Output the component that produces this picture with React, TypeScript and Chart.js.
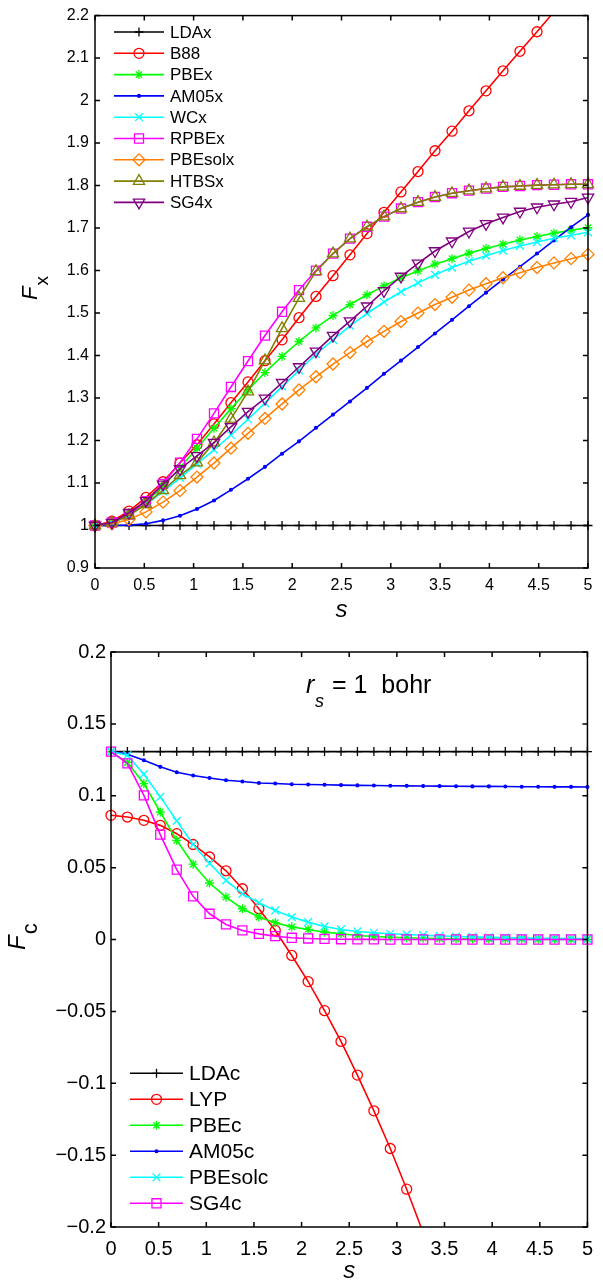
import React, { useEffect, useRef } from "react";
import { Chart, registerables } from "chart.js";
import { drawPoint } from "chart.js/helpers";

Chart.register(...registerables);

const FONT = '"Liberation Sans", Arial, Helvetica, sans-serif';

// ---------- data ----------
const S = [0, 0.172, 0.345, 0.517, 0.690, 0.862, 1.034, 1.207, 1.379, 1.552, 1.724, 1.897, 2.069, 2.241, 2.414,
  2.586, 2.759, 2.931, 3.103, 3.276, 3.448, 3.621, 3.793, 3.966, 4.138, 4.310, 4.483, 4.655, 4.828, 5.0];

const X_TICKS = [0, 0.5, 1, 1.5, 2, 2.5, 3, 3.5, 4, 4.5, 5];
const FX_TICKS = [0.9, 1, 1.1, 1.2, 1.3, 1.4, 1.5, 1.6, 1.7, 1.8, 1.9, 2, 2.1, 2.2];
const FC_TICKS = [-0.2, -0.15, -0.1, -0.05, 0, 0.05, 0.1, 0.15, 0.2];

const LDAx = [1, 1, 1, 1, 1, 1, 1, 1, 1, 1, 1, 1, 1, 1, 1, 1, 1, 1, 1, 1, 1, 1, 1, 1, 1, 1, 1, 1, 1, 1];
const B88 = [1.000, 1.010, 1.034, 1.066, 1.103, 1.147, 1.190, 1.239, 1.289, 1.338, 1.388, 1.437, 1.489, 1.539, 1.588,
  1.637, 1.687, 1.737, 1.785, 1.833, 1.882, 1.928, 1.976, 2.023, 2.070, 2.116, 2.162, 2.209, null, null];
const PBEx = [1.000, 1.006, 1.025, 1.055, 1.092, 1.136, 1.182, 1.229, 1.275, 1.319, 1.360, 1.398, 1.433, 1.465, 1.494,
  1.520, 1.543, 1.564, 1.583, 1.599, 1.615, 1.628, 1.641, 1.652, 1.662, 1.672, 1.680, 1.688, 1.695, 1.701];
const AM05x = [1.000, 1.000, 1.001, 1.004, 1.012, 1.023, 1.039, 1.059, 1.084, 1.110, 1.138, 1.169, 1.198, 1.230, 1.261,
  1.292, 1.324, 1.357, 1.388, 1.420, 1.452, 1.484, 1.516, 1.548, 1.579, 1.609, 1.640, 1.671, 1.702, 1.731];
const WCx = [1.000, 1.006, 1.024, 1.050, 1.080, 1.112, 1.145, 1.178, 1.213, 1.250, 1.288, 1.327, 1.365, 1.403, 1.437,
  1.470, 1.499, 1.526, 1.550, 1.571, 1.590, 1.607, 1.622, 1.635, 1.647, 1.658, 1.667, 1.676, 1.683, 1.690];
const RPBEx = [1.000, 1.007, 1.026, 1.057, 1.098, 1.148, 1.204, 1.264, 1.326, 1.387, 1.447, 1.503, 1.554, 1.600, 1.640,
  1.675, 1.703, 1.727, 1.746, 1.761, 1.773, 1.782, 1.788, 1.793, 1.797, 1.799, 1.801, 1.802, 1.803, 1.803];
const PBEsolx = [1.000, 1.004, 1.014, 1.032, 1.055, 1.082, 1.114, 1.147, 1.182, 1.217, 1.252, 1.286, 1.319, 1.350, 1.380,
  1.407, 1.433, 1.457, 1.480, 1.500, 1.520, 1.537, 1.554, 1.569, 1.583, 1.595, 1.607, 1.618, 1.628, 1.638];
const HTBSx = [1.000, 1.006, 1.024, 1.050, 1.083, 1.118, 1.148, 1.195, 1.251, 1.315, 1.388, 1.464, 1.535, 1.598, 1.640,
  1.675, 1.703, 1.727, 1.746, 1.761, 1.773, 1.782, 1.788, 1.793, 1.797, 1.799, 1.801, 1.802, 1.803, 1.803];
const SG4x = [1.000, 1.007, 1.030, 1.058, 1.097, 1.133, 1.164, 1.195, 1.232, 1.268, 1.299, 1.336, 1.373, 1.410, 1.447,
  1.481, 1.516, 1.552, 1.586, 1.617, 1.646, 1.669, 1.692, 1.710, 1.725, 1.739, 1.749, 1.756, 1.762, 1.772];

const LDAc = [0.1307, 0.1307, 0.1307, 0.1307, 0.1307, 0.1307, 0.1307, 0.1307, 0.1307, 0.1307, 0.1307, 0.1307, 0.1307,
  0.1307, 0.1307, 0.1307, 0.1307, 0.1307, 0.1307, 0.1307, 0.1307, 0.1307, 0.1307, 0.1307, 0.1307, 0.1307, 0.1307,
  0.1307, 0.1307, 0.1307];
const LYP = [0.0864, 0.0852, 0.0829, 0.0794, 0.0736, 0.0661, 0.0574, 0.0478, 0.0353, 0.0214, 0.0063, -0.0111, -0.0293,
  -0.0495, -0.0709, -0.0943, -0.1192, -0.1454, -0.1737, -0.2040, null, null, null, null, null, null, null, null, null, null];
const PBEc = [0.1307, 0.1232, 0.1085, 0.0887, 0.0690, 0.0524, 0.0393, 0.0295, 0.0214, 0.0156, 0.0117, 0.0088, 0.0070,
  0.0051, 0.0040, 0.0028, 0.0021, 0.0016, 0.0012, 0.0009, 0.0007, 0.0005, 0.0004, 0.0003, 0.0002, 0.0002, 0.0001,
  0.0001, 0.0001, 0.0001];
const AM05c = [0.1307, 0.1289, 0.1247, 0.1201, 0.1164, 0.1141, 0.1124, 0.1108, 0.1099, 0.1089, 0.1085, 0.1080, 0.1078,
  0.1076, 0.1074, 0.1072, 0.1071, 0.1070, 0.1069, 0.1068, 0.1067, 0.1066, 0.1065, 0.1065, 0.1064, 0.1063, 0.1063,
  0.1062, 0.1062, 0.1061];
const PBEsolc = [0.1307, 0.1282, 0.1150, 0.0992, 0.0825, 0.0661, 0.0530, 0.0411, 0.0318, 0.0256, 0.0202, 0.0156, 0.0121,
  0.0091, 0.0070, 0.0056, 0.0047, 0.0040, 0.0035, 0.0030, 0.0025, 0.0021, 0.0018, 0.0015, 0.0013, 0.0011, 0.0009,
  0.0008, 0.0007, 0.0006];
const SG4c = [0.1307, 0.1225, 0.1003, 0.0730, 0.0486, 0.0300, 0.0179, 0.0105, 0.0063, 0.0039, 0.0023, 0.0012, 0.0007,
  0.0004, 0.0002, 0.0001, 0.0001, 0, 0, 0, 0, 0, 0, 0, 0, 0, 0, 0, 0, 0];

// ---------- styles ----------
type Def = { label: string; data: (number | null)[]; color: string; style: string; radius: number; rotation?: number; fill?: boolean };

const TOP: Def[] = [
  { label: "LDAx", data: LDAx, color: "#000000", style: "cross", radius: 4.5 },
  { label: "B88", data: B88, color: "#ff0000", style: "circle", radius: 5 },
  { label: "PBEx", data: PBEx, color: "#00ff00", style: "star", radius: 4.5 },
  { label: "AM05x", data: AM05x, color: "#0000ff", style: "circle", radius: 1.4, fill: true },
  { label: "WCx", data: WCx, color: "#00ffff", style: "crossRot", radius: 5.5 },
  { label: "RPBEx", data: RPBEx, color: "#ff00ff", style: "rect", radius: 6.4 },
  { label: "PBEsolx", data: PBEsolx, color: "#ff8000", style: "rectRot", radius: 6 },
  { label: "HTBSx", data: HTBSx, color: "#808000", style: "triangle", radius: 6.5 },
  { label: "SG4x", data: SG4x, color: "#800080", style: "triangle", radius: 6.5, rotation: 180 },
];

const BOTTOM: Def[] = [
  { label: "LDAc", data: LDAc, color: "#000000", style: "cross", radius: 4.5 },
  { label: "LYP", data: LYP, color: "#ff0000", style: "circle", radius: 5 },
  { label: "PBEc", data: PBEc, color: "#00ff00", style: "star", radius: 4.5 },
  { label: "AM05c", data: AM05c, color: "#0000ff", style: "circle", radius: 1.4, fill: true },
  { label: "PBEsolc", data: PBEsolc, color: "#00ffff", style: "crossRot", radius: 5.5 },
  { label: "SG4c", data: SG4c, color: "#ff00ff", style: "rect", radius: 6.4 },
];

function fmt(v: number) {
  const r = Math.round(v * 100) / 100;
  if (r < 0) return "\u2212" + String(-r);
  return String(r === 0 ? 0 : r);
}

function datasets(defs: Def[], ymin: number, ymax: number) {
  return defs.map((d, i) => ({
    label: d.label,
    data: S.map((x, k) => ({ x, y: d.data[k] })),
    borderColor: d.color,
    backgroundColor: d.color,
    borderWidth: 1.6,
    pointStyle: d.style,
    pointRadius: (ctx: any) => {
      const v = ctx.raw ? ctx.raw.y : null;
      return v == null || v < ymin - 1e-9 || v > ymax + 1e-9 ? 0 : d.radius;
    },
    pointHoverRadius: 0,
    pointBorderColor: d.color,
    pointBackgroundColor: d.fill ? d.color : "rgba(0,0,0,0)",
    pointBorderWidth: 1.3,
    pointRotation: d.rotation || 0,
    tension: 0,
    spanGaps: false,
    order: defs.length - i,
    clip: { left: 10, right: 10, top: 0, bottom: 0 },
  }));
}

function framePlugin(yTicks: number[]) {
  return {
    id: "frame",
    afterDraw(chart: any) {
      const { ctx, chartArea: a, scales } = chart;
      ctx.save();
      ctx.strokeStyle = "#000";
      ctx.lineWidth = 1.5;
      ctx.strokeRect(a.left, a.top, a.right - a.left, a.bottom - a.top);
      const L = 5;
      ctx.beginPath();
      X_TICKS.forEach((v) => {
        const x = scales.x.getPixelForValue(v);
        ctx.moveTo(x, a.bottom); ctx.lineTo(x, a.bottom - L);
        ctx.moveTo(x, a.top); ctx.lineTo(x, a.top + L);
      });
      yTicks.forEach((v) => {
        const y = scales.y.getPixelForValue(v);
        ctx.moveTo(a.left, y); ctx.lineTo(a.left + L, y);
        ctx.moveTo(a.right, y); ctx.lineTo(a.right - L, y);
      });
      ctx.stroke();
      ctx.restore();
    },
  };
}

type Deco = {
  legend: { x1: number; x2: number; xt: number; y0: number; dy: number; font: number };
  xTitle: { y: number; font: number };
  yTitle: { x: number; y: number; font: number; sub: string; subFont: number; subOff: number };
  extra?: (ctx: CanvasRenderingContext2D) => void;
};

function decoPlugin(defs: Def[], deco: Deco) {
  return {
    id: "deco",
    afterDraw(chart: any) {
      const { ctx, chartArea: a } = chart;
      ctx.save();
      // legend
      const L = deco.legend;
      defs.forEach((d, i) => {
        const y = L.y0 + i * L.dy;
        ctx.strokeStyle = d.color;
        ctx.lineWidth = 1.6;
        ctx.beginPath();
        ctx.moveTo(L.x1, y);
        ctx.lineTo(L.x2, y);
        ctx.stroke();
        ctx.fillStyle = d.fill ? d.color : "rgba(0,0,0,0)";
        ctx.lineWidth = 1.3;
        drawPoint(ctx, { pointStyle: d.style, radius: d.radius, rotation: d.rotation || 0, borderWidth: 1.3 } as any,
          (L.x1 + L.x2) / 2, y);
        ctx.fillStyle = "#000";
        ctx.font = `${L.font}px ${FONT}`;
        ctx.textAlign = "left";
        ctx.textBaseline = "middle";
        ctx.fillText(d.label, L.xt, y + 1);
      });
      // x title
      ctx.fillStyle = "#000";
      ctx.textBaseline = "alphabetic";
      ctx.textAlign = "center";
      ctx.font = `italic ${deco.xTitle.font}px ${FONT}`;
      ctx.fillText("s", (a.left + a.right) / 2, deco.xTitle.y);
      // y title
      const T = deco.yTitle;
      ctx.save();
      ctx.translate(T.x, T.y);
      ctx.rotate(-Math.PI / 2);
      ctx.textAlign = "left";
      ctx.font = `italic ${T.font}px ${FONT}`;
      ctx.fillText("F", 0, 0);
      const w = ctx.measureText("F").width;
      ctx.font = `${T.subFont}px ${FONT}`;
      ctx.fillText(T.sub, w + 1, T.subOff);
      ctx.restore();
      if (deco.extra) deco.extra(ctx);
      ctx.restore();
    },
  };
}

function makeConfig(defs: Def[], ymin: number, ymax: number, yTicks: number[], o: any, deco: Deco) {
  return {
    type: "line",
    data: { datasets: datasets(defs, ymin, ymax) },
    options: {
      responsive: false,
      animation: false,
      events: [],
      layout: { padding: o.padding },
      plugins: { legend: { display: false }, tooltip: { enabled: false }, title: { display: false } },
      scales: {
        x: {
          type: "linear",
          min: 0,
          max: 5,
          grid: { display: false, drawTicks: false },
          border: { display: false },
          afterBuildTicks: (ax: any) => { ax.ticks = X_TICKS.map((v) => ({ value: v })); },
          afterFit: (ax: any) => { ax.height = o.xh; },
          ticks: {
            color: "#000",
            padding: o.xpad,
            maxRotation: 0,
            autoSkip: false,
            font: { family: FONT, size: o.tickFont },
            callback: (v: number) => fmt(v),
          },
        },
        y: {
          type: "linear",
          min: ymin,
          max: ymax,
          grid: { display: false, drawTicks: false },
          border: { display: false },
          afterBuildTicks: (ax: any) => { ax.ticks = yTicks.map((v) => ({ value: v })); },
          afterFit: (ax: any) => { ax.width = o.yw; },
          ticks: {
            color: "#000",
            padding: o.ypad,
            autoSkip: false,
            font: { family: FONT, size: o.tickFont },
            callback: (v: number) => fmt(v),
          },
        },
      },
    },
    plugins: [framePlugin(yTicks), decoPlugin(defs, deco)],
  };
}

function ChartCanvas({ config, width, height }: { config: () => any; width: number; height: number }) {
  const ref = useRef<HTMLCanvasElement>(null);
  useEffect(() => {
    const chart = new Chart(ref.current as HTMLCanvasElement, config());
    return () => chart.destroy();
  }, []);
  return <canvas ref={ref} width={width} height={height} style={{ display: "block", width, height }} />;
}

export default function App() {
  const topConfig = () =>
    makeConfig(TOP, 0.9, 2.2, FX_TICKS,
      { padding: { left: 0, top: 10, right: 15, bottom: 0 }, xh: 62, yw: 95, xpad: 8, ypad: 6, tickFont: 16 },
      {
        legend: { x1: 114, x2: 164, xt: 170, y0: 32, dy: 21.3, font: 17 },
        xTitle: { y: 617, font: 24 },
        yTitle: { x: 37, y: 300, font: 22, sub: "x", subFont: 19, subOff: 11 },
      });
  const bottomConfig = () =>
    makeConfig(BOTTOM, -0.2, 0.2, FC_TICKS,
      { padding: { left: 0, top: 22, right: 6.5, bottom: 0 }, xh: 56, yw: 111, xpad: 10, ypad: 5, tickFont: 20 },
      {
        legend: { x1: 130, x2: 183, xt: 189, y0: 443.3, dy: 26, font: 21 },
        xTitle: { y: 648, font: 24 },
        yTitle: { x: 25, y: 320, font: 24, sub: "c", subFont: 22, subOff: 12 },
        extra: (ctx) => {
          ctx.fillStyle = "#000";
          ctx.textAlign = "left";
          ctx.textBaseline = "alphabetic";
          ctx.font = `italic 25px ${FONT}`;
          ctx.fillText("r", 306, 63);
          ctx.font = `italic 18px ${FONT}`;
          ctx.fillText("s", 315, 77);
          ctx.font = `25px ${FONT}`;
          ctx.fillText("= 1  bohr", 332, 63);
        },
      });
  return (
    <div style={{ position: "absolute", left: 0, top: 0, width: 603, height: 1283, background: "#fff" }}>
      <ChartCanvas config={topConfig} width={603} height={630} />
      <ChartCanvas config={bottomConfig} width={603} height={653} />
    </div>
  );
}
